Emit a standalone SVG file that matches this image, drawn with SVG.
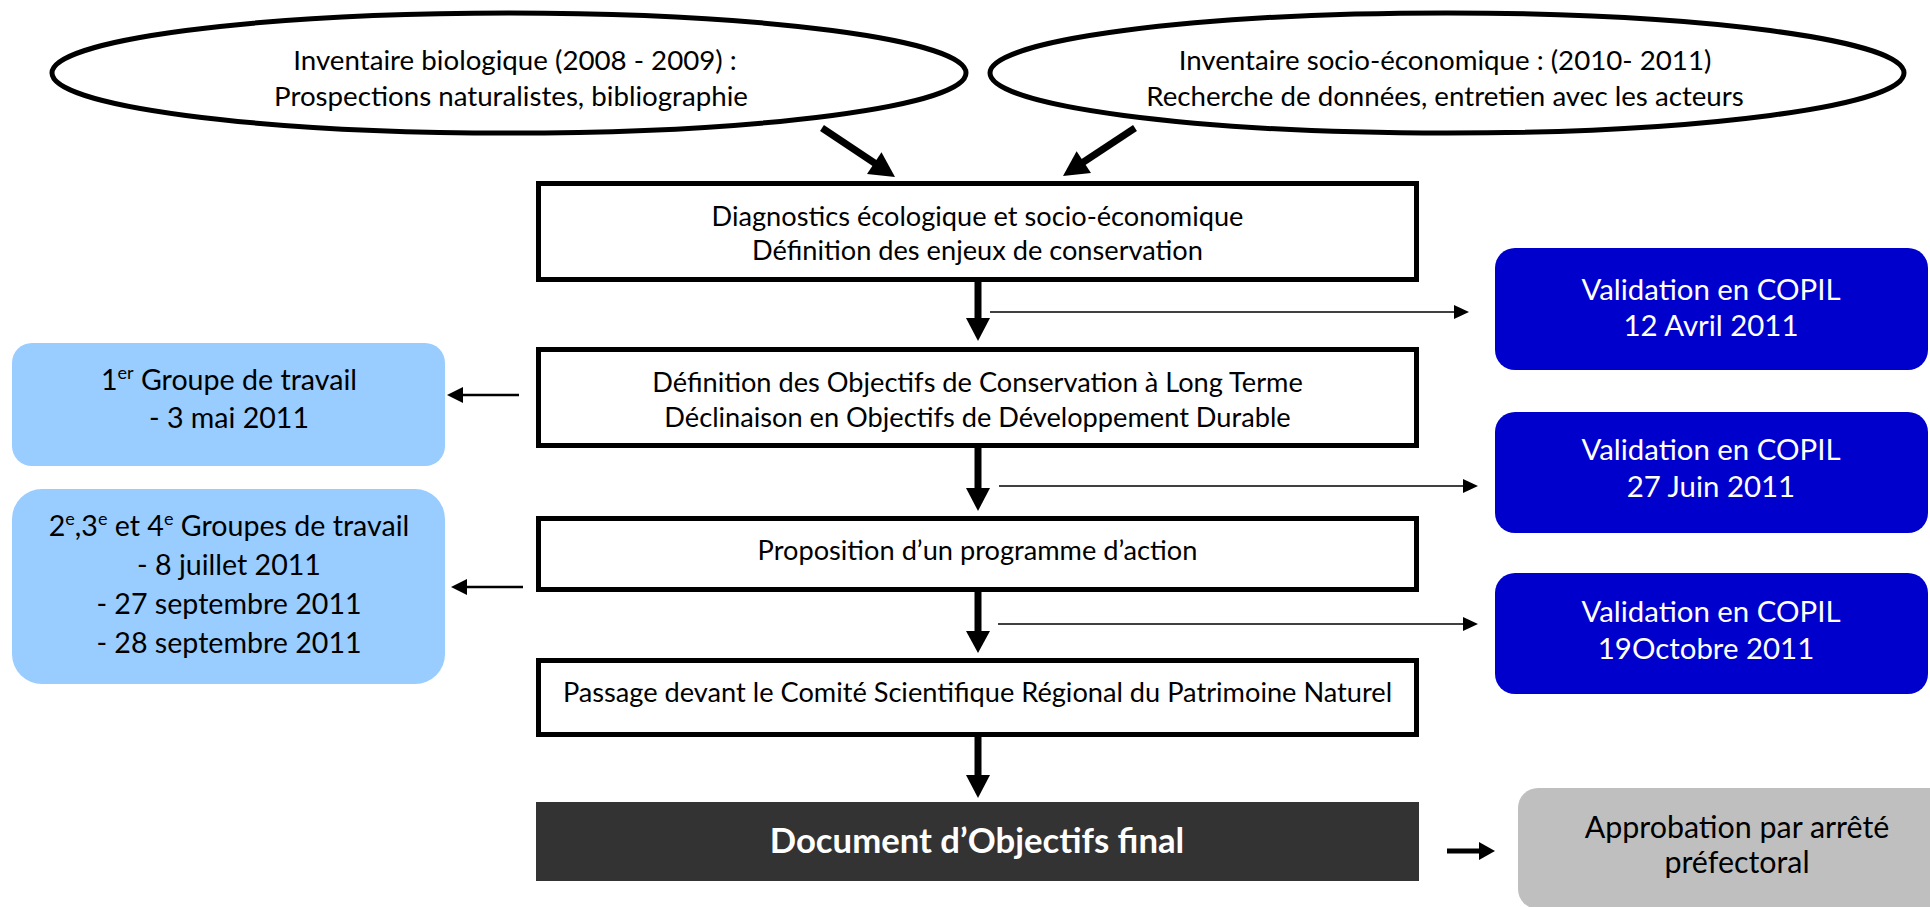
<svg xmlns="http://www.w3.org/2000/svg" width="1930" height="907" viewBox="0 0 1930 907">
<style>
  text { font-family: Lato, "Open Sans", "Liberation Sans", sans-serif; fill: #000; text-anchor: middle; }
  .te { font-size: 27.7px; }
  .t1 { font-size: 27.2px; }
  .tc { font-size: 29.4px; fill: #fff; }
  .tg { font-size: 28.6px; }
  .ta { font-size: 30.4px; }
  .bold { font-weight: bold; font-size: 34.7px; fill: #fff; }
  .ell { fill: #fff; stroke: #000; stroke-width: 5; }
  .box { fill: #fff; stroke: #000; stroke-width: 5; }
  .copil { fill: #0000cc; }
  .grp { fill: #99ccff; }
  .thick { stroke: #000; stroke-width: 7; fill: none; }
  .thin { stroke: #000; stroke-width: 1.6; fill: none; }
  .mid { stroke: #000; stroke-width: 2.6; fill: none; }
  .head { fill: #000; }
</style>

<g id="inventaire-bio">
  <ellipse class="ell" cx="509" cy="73" rx="457" ry="60"/>
  <text class="te" x="515" y="70">Inventaire biologique (2008 - 2009) :</text>
  <text class="te" x="511" y="106">Prospections naturalistes, bibliographie</text>
</g>

<g id="inventaire-socio">
  <ellipse class="ell" cx="1447" cy="73" rx="457" ry="60"/>
  <text class="te" x="1445" y="70">Inventaire socio-économique : (2010- 2011)</text>
  <text class="te" x="1445" y="106">Recherche de données, entretien avec les acteurs</text>
</g>

<g id="diagnostics">
  <rect class="box" x="538.5" y="183.5" width="878" height="96"/>
  <text class="t1" x="977.5" y="226">Diagnostics écologique et socio-économique</text>
  <text class="t1" x="977.5" y="260">Définition des enjeux de conservation</text>
</g>

<g id="objectifs">
  <rect class="box" x="538.5" y="349.5" width="878" height="96"/>
  <text class="t1" x="977.5" y="392">Définition des Objectifs de Conservation à Long Terme</text>
  <text class="t1" x="977.5" y="427">Déclinaison en Objectifs de Développement Durable</text>
</g>

<g id="programme">
  <rect class="box" x="538.5" y="518.5" width="878" height="71"/>
  <text class="t1" x="977.5" y="560">Proposition d’un programme d’action</text>
</g>

<g id="csrpn">
  <rect class="box" x="538.5" y="660.5" width="878" height="74"/>
  <text class="t1" x="977.5" y="702">Passage devant le Comité Scientifique Régional du Patrimoine Naturel</text>
</g>

<g id="docob-final">
  <rect x="536" y="802" width="883" height="79" fill="#333333"/>
  <text class="bold" x="977" y="853">Document d’Objectifs final</text>
</g>

<g id="copil-1">
  <rect class="copil" x="1495" y="248" width="433" height="122" rx="20"/>
  <text class="tc" x="1711" y="300">Validation en COPIL</text>
  <text class="tc" x="1711" y="336">12 Avril 2011</text>
</g>

<g id="copil-2">
  <rect class="copil" x="1495" y="412" width="433" height="121" rx="20"/>
  <text class="tc" x="1711" y="460">Validation en COPIL</text>
  <text class="tc" x="1711" y="497">27 Juin 2011</text>
</g>

<g id="copil-3">
  <rect class="copil" x="1495" y="573" width="433" height="121" rx="20"/>
  <text class="tc" x="1711" y="622">Validation en COPIL</text>
  <text class="tc" x="1706" y="659">19Octobre 2011</text>
</g>

<g id="groupe-1">
  <rect class="grp" x="12" y="343" width="433" height="123" rx="20"/>
  <text class="tg" x="229" y="390">1<tspan font-size="18" dy="-11">er</tspan><tspan dy="11"> Groupe de travail</tspan></text>
  <text class="tg" x="229" y="428">- 3 mai 2011</text>
</g>

<g id="groupes-2-4">
  <rect class="grp" x="12" y="489" width="433" height="195" rx="30"/>
  <text class="tg" x="229" y="536">2<tspan font-size="18" dy="-11">e</tspan><tspan dy="11">,3</tspan><tspan font-size="18" dy="-11">e</tspan><tspan dy="11"> et 4</tspan><tspan font-size="18" dy="-11">e</tspan><tspan dy="11"> Groupes de travail</tspan></text>
  <text class="tg" x="229" y="575">- 8 juillet 2011</text>
  <text class="tg" x="229" y="614">- 27 septembre 2011</text>
  <text class="tg" x="229" y="653">- 28 septembre 2011</text>
</g>

<g id="approbation">
  <rect x="1518" y="788" width="440" height="121" rx="20" fill="#bfbfbf"/>
  <text class="ta" x="1737" y="838">Approbation par arrêté</text>
  <text class="ta" x="1737" y="873">préfectoral</text>
</g>

<g id="connectors">
  <line class="thick" x1="822" y1="128" x2="876" y2="164"/>
  <polygon class="head" points="895,177 867,174 881.5,152.3"/>
  <line class="thick" x1="1135" y1="128" x2="1082" y2="163"/>
  <polygon class="head" points="1063,176 1076.6,151.3 1091,172.9"/>

  <line class="thick" x1="978" y1="282" x2="978" y2="320"/>
  <polygon class="head" points="966,318 990,318 978,341"/>
  <line class="thick" x1="978" y1="448" x2="978" y2="490"/>
  <polygon class="head" points="966,488 990,488 978,511"/>
  <line class="thick" x1="978" y1="592" x2="978" y2="633"/>
  <polygon class="head" points="966,631 990,631 978,653"/>
  <line class="thick" x1="978" y1="737" x2="978" y2="777"/>
  <polygon class="head" points="966,775 990,775 978,798"/>

  <line class="thin" x1="990" y1="312" x2="1456" y2="312"/>
  <polygon class="head" points="1469,312 1454,305 1454,319"/>
  <line class="thin" x1="999" y1="486" x2="1465" y2="486"/>
  <polygon class="head" points="1478,486 1463,479 1463,493"/>
  <line class="thin" x1="998" y1="624" x2="1465" y2="624"/>
  <polygon class="head" points="1478,624 1463,617 1463,631"/>

  <line class="mid" x1="519" y1="395" x2="460" y2="395"/>
  <polygon class="head" points="447,395 463,387 463,403"/>
  <line class="mid" x1="523" y1="587" x2="464" y2="587"/>
  <polygon class="head" points="451,587 467,579 467,595"/>

  <line stroke="#000" stroke-width="5" x1="1447" y1="851" x2="1482" y2="851"/>
  <polygon class="head" points="1495,851 1479,842 1479,860"/>
</g>
</svg>
